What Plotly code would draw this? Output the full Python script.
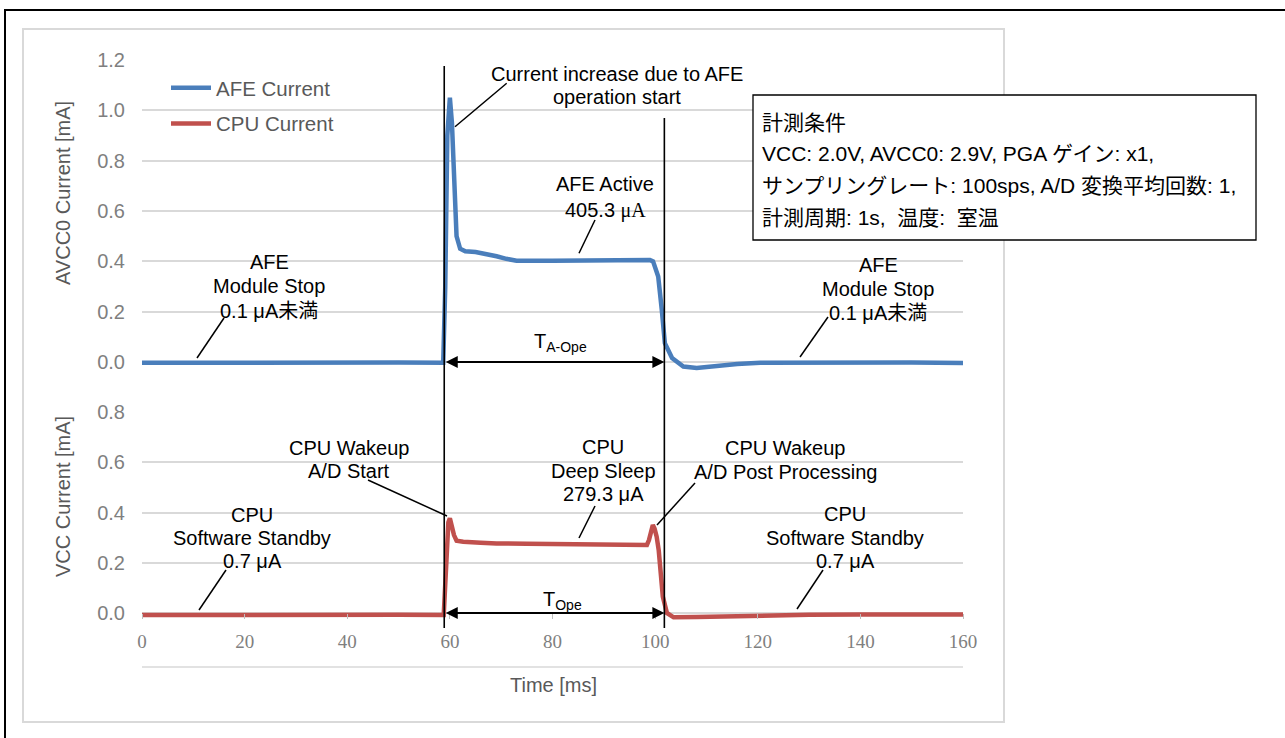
import plotly.graph_objects as go

# ---------------- data ----------------
afe_time_ms = [0, 10, 20, 30, 40, 50, 58.7, 59.1, 59.5, 60.0, 60.4, 60.8, 61.3, 62.0, 63.0,
               65.0, 67.0, 69.1, 71.0, 73.0, 80.0, 89.3, 95.0, 99.0, 99.6, 100.0, 100.6,
               101.3, 101.9, 103.3, 105.5, 108.1, 113.3, 116.0, 120.5, 130, 140, 150, 160]
afe_current_ma = [-0.003, -0.002, -0.003, -0.002, -0.003, -0.002, -0.003, 0.30, 0.90, 1.05,
                  0.95, 0.70, 0.50, 0.45, 0.44, 0.437, 0.43, 0.42, 0.41, 0.402, 0.402, 0.405,
                  0.405, 0.405, 0.40, 0.38, 0.34, 0.207, 0.075, 0.016, -0.018, -0.024, -0.013,
                  -0.008, -0.003, -0.002, -0.003, -0.002, -0.004]

cpu_time_ms = [0, 10, 20, 30, 40, 50, 58.8, 59.3, 59.7, 60.0, 60.4, 60.8, 61.3, 62.6, 66.0,
               69.1, 75.0, 82.1, 90.0, 95.1, 98.4, 98.8, 99.2, 99.55, 99.9, 100.3, 100.7,
               101.0, 101.5, 102.3, 103.6, 108.1, 115, 121, 130, 140, 150, 160]
cpu_current_ma = [-0.008, -0.007, -0.008, -0.006, -0.008, -0.007, -0.008, 0.20, 0.36, 0.377,
                  0.34, 0.31, 0.288, 0.284, 0.280, 0.277, 0.276, 0.275, 0.276, 0.275, 0.271,
                  0.29, 0.33, 0.35, 0.335, 0.304, 0.25, 0.184, 0.065, 0.0, -0.017, -0.016,
                  -0.012, -0.010, -0.007, -0.006, -0.007, -0.006]

series_names = ["AFE Current", "CPU Current"]
x_ticks = [0, 20, 40, 60, 80, 100, 120, 140, 160]
afe_y_ticks = [0.0, 0.2, 0.4, 0.6, 0.8, 1.0, 1.2]
cpu_y_ticks = [0.0, 0.2, 0.4, 0.6, 0.8]
marker_times_ms = [58.9, 101.8]  # T_ope start / end

# ---------------- layout helpers (page pixel -> paper) ----------------
W, H = 1285, 738
PX0, PX1 = 142, 963          # px of x = 0 / 160
PY0, PY1 = 60, 667           # px of plot-area top / bottom


def X(px):
    return (px - PX0) / (PX1 - PX0)


def Y(py):
    return (PY1 - py) / (PY1 - PY0)


SANS = "Liberation Sans, Arial, Noto Sans CJK JP, sans-serif"
SERIF = "Liberation Serif, Times New Roman, serif"
BLUE = "#4A7EBB"
RED = "#C0504D"
GRID = "#D9D9D9"
AXIS_TXT = "#595959"
TICK_TXT = "#7F7F7F"

fig = go.Figure()
fig.add_trace(go.Scatter(x=afe_time_ms, y=afe_current_ma, mode="lines", name=series_names[0],
                         line=dict(color=BLUE, width=4.5), xaxis="x", yaxis="y2",
                         legendgroup="a"))
fig.add_trace(go.Scatter(x=cpu_time_ms, y=cpu_current_ma, mode="lines", name=series_names[1],
                         line=dict(color=RED, width=4.5), xaxis="x", yaxis="y",
                         legendgroup="b"))

split = Y(412)
fig.update_layout(
    width=W, height=H,
    margin=dict(l=PX0, r=W - PX1, t=PY0, b=H - PY1),
    paper_bgcolor="white", plot_bgcolor="white",
    font=dict(family=SANS, size=20, color="black"),
    showlegend=True,
    legend=dict(x=X(166), y=Y(68), xanchor="left", yanchor="top",
                bgcolor="rgba(0,0,0,0)", font=dict(size=20.5, color=AXIS_TXT, family=SANS),
                tracegroupgap=6, itemwidth=40),
    xaxis=dict(range=[0, 160], tickvals=x_ticks, anchor="free", position=Y(613),
               showgrid=False, zeroline=False, showline=False,
               ticks="outside", ticklen=5, tickcolor="#BFBFBF", tickwidth=1,
               tickfont=dict(family=SERIF, size=19, color=TICK_TXT),
               ticklabelstandoff=6),
    yaxis=dict(domain=[0, split], range=[-54 / 251.25, 0.8],
               tickvals=cpu_y_ticks, tickformat=".1f", showgrid=True, gridcolor=GRID,
               gridwidth=1.5, zeroline=False, showline=False, ticks="",
               tickfont=dict(family=SANS, size=20, color=TICK_TXT), ticklabelstandoff=16),
    yaxis2=dict(domain=[split, 1], range=[-50 / 251.67, 1.2],
                tickvals=afe_y_ticks, tickformat=".1f", showgrid=True, gridcolor=GRID,
                gridwidth=1.5, zeroline=False, showline=False, ticks="",
                tickfont=dict(family=SANS, size=20, color=TICK_TXT), ticklabelstandoff=16),
)

shapes = []
# outer black frame (left & top visible) and inner grey chart-area frame
shapes.append(dict(type="rect", xref="paper", yref="paper", x0=X(5), x1=X(1300), y0=Y(760),
                   y1=Y(10), line=dict(color="black", width=2), layer="below"))
shapes.append(dict(type="rect", xref="paper", yref="paper", x0=X(23), x1=X(1004), y0=Y(722),
                   y1=Y(29), line=dict(color=GRID, width=2), layer="below"))
# bottom grid line of the plot area
shapes.append(dict(type="line", xref="paper", yref="paper", x0=0, x1=1, y0=0, y1=0,
                   line=dict(color=GRID, width=1.5), layer="below"))
# vertical marker lines
for t, top in zip(marker_times_ms, [66, 118]):
    shapes.append(dict(type="line", xref="x", yref="paper", x0=t, x1=t, y0=Y(628), y1=Y(top),
                       line=dict(color="black", width=1.6)))
# leader lines
leaders = [((506.7, 83.3), (455, 126.7)), ((595, 220), (579, 253.3)), ((224, 318), (197, 358)),
           ((828, 317), (800, 357)), ((368, 480), (447, 516)), ((226, 570), (199, 610)),
           ((595, 506), (579, 538)), ((695, 483), (657, 525)), ((823, 570), (797, 609))]
for (a, b) in leaders:
    shapes.append(dict(type="line", xref="paper", yref="paper", x0=X(a[0]), y0=Y(a[1]),
                       x1=X(b[0]), y1=Y(b[1]), line=dict(color="black", width=1.5)))
# conditions box
shapes.append(dict(type="rect", xref="paper", yref="paper", x0=X(753), x1=X(1256), y0=Y(240),
                   y1=Y(95), line=dict(color="black", width=1.3), fillcolor="white",
                   layer="above"))

annotations = []


def label(text, px, py, size=20, color="black", family=SANS, **kw):
    d = dict(text=text, xref="paper", yref="paper", x=X(px), y=Y(py), showarrow=False,
             xanchor="center", yanchor="middle", font=dict(size=size, color=color, family=family))
    d.update(kw)
    annotations.append(d)


def block(lines, px, pys, **kw):
    for t, py in zip(lines, pys):
        label(t, px, py, **kw)


block(["Current increase due to AFE", "operation start"], 617, [74, 97])
block(["AFE Active", '405.3 <span style="font-family:Liberation Serif">μA</span>'], 605, [184, 210])
block(["AFE", "Module Stop", "0.1 μA未満"], 269, [262, 286, 311])
block(["AFE", "Module Stop", "0.1 μA未満"], 878, [265, 289, 313])
block(["CPU Wakeup", "A/D Start"], 349, [448, 471])
block(["CPU", "Software Standby", "0.7 μA"], 252, [515, 538, 561])
block(["CPU", "Deep Sleep", "279.3 μA"], 603, [447, 471, 494])
block(["CPU Wakeup", "A/D Post Processing"], 785, [448, 472])
block(["CPU", "Software Standby", "0.7 μA"], 845, [514, 538, 561])
label("T<sub>A-Ope</sub>", 560, 342)
label("T<sub>Ope</sub>", 562, 600)

box_lines = ["計測条件",
             "VCC: 2.0V, AVCC0: 2.9V, PGA ゲイン: x1,",
             "サンプリングレート: 100sps, A/D 変換平均回数: 1,",
             "計測周期: 1s,  温度:  室温"]
for line, py in zip(box_lines, [122, 153, 185, 217]):
    label(line, 760, py, size=21, xanchor="left")

# axis titles
label("AVCC0 Current [mA]", 63, 193, size=20, color=AXIS_TXT, textangle=-90)
label("VCC Current [mA]", 63, 497, size=20, color=AXIS_TXT, textangle=-90)
label("Time [ms]", 553, 685, size=20, color=AXIS_TXT)

# double-headed duration arrows
for yref in ["y2", "y"]:
    annotations.append(dict(x=marker_times_ms[1], y=0, xref="x", yref=yref,
                            ax=marker_times_ms[0], ay=0, axref="x", ayref=yref,
                            text="", showarrow=True, arrowhead=2, arrowside="end+start",
                            arrowsize=1.2, arrowwidth=2, arrowcolor="black"))

fig.update_layout(shapes=shapes, annotations=annotations)
fig.write_html("out.html", config={"displayModeBar": False},
               post_script="document.body.style.margin='0px';document.body.style.overflow='hidden';")
